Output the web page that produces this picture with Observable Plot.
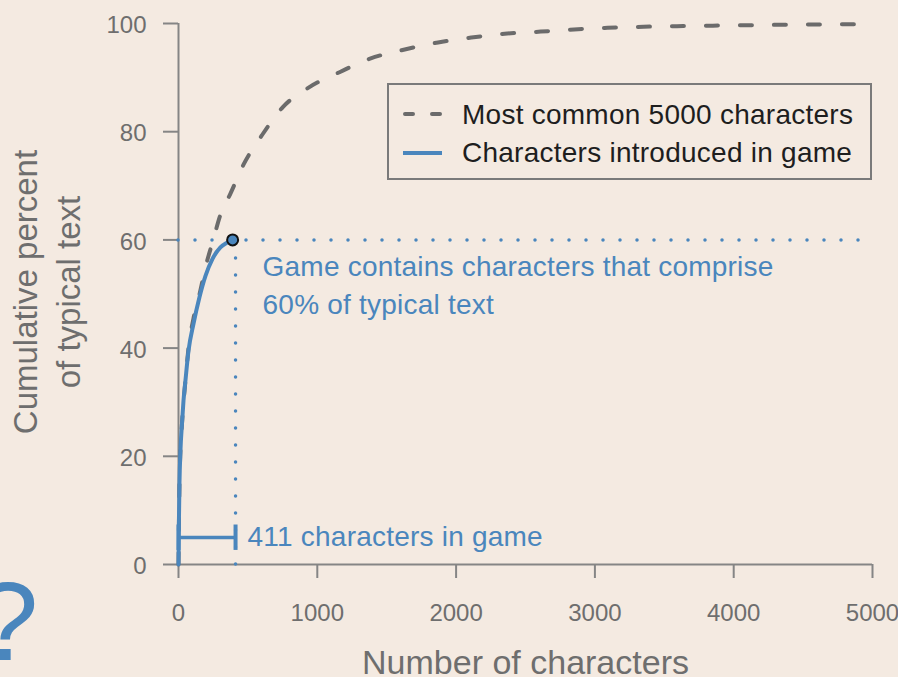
<!DOCTYPE html>
<html><head><meta charset="utf-8">
<script src="https://cdn.jsdelivr.net/npm/d3@7"></script>
<script src="https://cdn.jsdelivr.net/npm/@observablehq/plot@0.6"></script>
<style>
html,body{margin:0;padding:0;background:#f4eae1;}
#wrap{position:relative;width:898px;height:677px;overflow:hidden;background:#f4eae1;font-family:"Liberation Sans",Arial,Helvetica,sans-serif;}
#overlay{position:absolute;left:0;top:0;pointer-events:none;}
</style></head><body><div id="wrap"></div>
<script>
// ---- data ----
const xTicks = [0, 1000, 2000, 3000, 4000, 5000];
const yTicks = [0, 20, 40, 60, 80, 100];
const commonChars   = [0, 7, 14, 25, 50, 72, 108, 150, 195, 250, 300, 375, 470, 600, 750, 940, 1160, 1380, 1630, 1870, 2110, 2350, 2610, 2850, 3090, 3350, 3590, 3850, 4300, 5000];
const commonPercent = [0, 15, 21, 26, 34, 40, 45.5, 49.8, 55, 60, 64.5, 68.6, 74, 79.3, 84.5, 88.2, 91, 93.5, 95.2, 96.5, 97.4, 98.1, 98.5, 98.9, 99.2, 99.4, 99.5, 99.6, 99.75, 99.9];
const gameChars   = [0, 3, 7, 14, 25, 36, 50, 72, 108, 151, 195, 245, 302, 350, 390];
const gamePercent = [0, 8, 15, 21, 26, 30.3, 34, 39.5, 44.5, 49.4, 53.4, 56.5, 58.6, 59.5, 60];
const gameCount = 411;
const gameShare = 60;
const legendLabels = ["Most common 5000 characters", "Characters introduced in game"];
const xLabel = "Number of characters";
const yLabel = "Cumulative percent\nof typical text";
const noteText = "Game contains characters that comprise\n60% of typical text";
const countText = "411 characters in game";
const cornerGlyph = "?";

// ---- styles ----
const BLUE = "#4a86bd";
const GRAY = "#6e6e6e";
const AXIS = "#858585";
const FONT = '"Liberation Sans", Arial, Helvetica, sans-serif';

const common = commonChars.map((x, i) => ({x, y: commonPercent[i]}));
const game = gameChars.map((x, i) => ({x, y: gamePercent[i]}));
const endPoint = game[game.length - 1];
const bracketY = 5;

const chart = Plot.plot({
  width: 898, height: 677,
  marginLeft: 178, marginRight: 26, marginTop: 23, marginBottom: 113,
  x: {domain: [0, 5000], label: null},
  y: {domain: [0, 100], label: null},
  style: {background: "transparent", fontFamily: FONT, overflow: "visible"},
  marks: [
    Plot.ruleX([0], {stroke: AXIS, strokeWidth: 2}),
    Plot.ruleY([0], {stroke: AXIS, strokeWidth: 2}),
    Plot.axisX({ticks: xTicks, tickFormat: d => String(d), tickSize: 14, tickPadding: 25, fontSize: 24, stroke: AXIS, strokeWidth: 2, fill: GRAY, label: null}),
    Plot.axisY({ticks: yTicks, tickFormat: () => "", tickSize: 15, stroke: AXIS, strokeWidth: 2, label: null}),
    Plot.axisY({ticks: yTicks, tickFormat: d => String(d), tickSize: 0, tickPadding: 32, dy: 2, fontSize: 24, fill: GRAY, label: null}),
    Plot.text([xLabel], {frameAnchor: "bottom", dy: 109, textAnchor: "middle", lineAnchor: "bottom", fontSize: 34, fill: GRAY}),
    Plot.text([yLabel], {frameAnchor: "left", rotate: -90, dx: -171.5, dy: -2, textAnchor: "middle", lineAnchor: "top", lineHeight: 1.3, fontSize: 33, fill: GRAY}),
    // dotted guides
    Plot.ruleY([gameShare], {stroke: BLUE, strokeWidth: 3.5, strokeDasharray: "0,17", strokeLinecap: "round"}),
    Plot.ruleX([gameCount], {y1: 0, y2: gameShare, stroke: BLUE, strokeWidth: 3.5, strokeDasharray: "0,17", strokeLinecap: "round"}),
    // curves
    Plot.line(common, {x: "x", y: "y", curve: "monotone-x", stroke: "#6b6b6b", strokeWidth: 4, strokeDasharray: "12,22", strokeLinecap: "round"}),
    Plot.line(game, {x: "x", y: "y", curve: "monotone-x", stroke: BLUE, strokeWidth: 4}),
    Plot.dot([endPoint], {x: "x", y: "y", r: 5.5, fill: BLUE, stroke: "#111", strokeWidth: 2}),
    // bracket
    Plot.ruleY([bracketY], {x1: 0, x2: gameCount, stroke: BLUE, strokeWidth: 3.5}),
    Plot.ruleX([0, gameCount], {y1: bracketY - 2.4, y2: bracketY + 2.3, stroke: BLUE, strokeWidth: 4}),
    Plot.text([countText], {x: gameCount, y: bracketY, dx: 12, textAnchor: "start", lineAnchor: "middle", fontSize: 28, fill: BLUE, style: "letter-spacing:0.2px"}),
    Plot.text([noteText], {x: gameCount, y: gameShare, dx: 27, dy: 9, textAnchor: "start", lineAnchor: "top", lineHeight: 1.357, fontSize: 28, fill: BLUE})
  ]
});
const wrap = document.getElementById("wrap");
wrap.appendChild(chart);
// slight letter spacing for the annotation texts (wider original face)
d3.select(chart).selectAll("text").filter(function () {
  const t = this.textContent;
  return t.startsWith("Game") || t.startsWith("411");
}).style("letter-spacing", "0.22px");

// ---- overlay: legend and corner glyph ----
const ov = d3.select(wrap).append("svg").attr("id", "overlay")
  .attr("width", 898).attr("height", 677).style("font-family", FONT);
const lg = ov.append("g").attr("transform", "translate(387,83)");
lg.append("rect").attr("x", 1).attr("y", 1).attr("width", 483).attr("height", 95)
  .attr("fill", "#f4eae1").attr("stroke", "#7a7a7a").attr("stroke-width", 2);
lg.append("line").attr("x1", 18).attr("x2", 53).attr("y1", 31).attr("y2", 31)
  .attr("stroke", "#6b6b6b").attr("stroke-width", 4).attr("stroke-dasharray", "8,19").attr("stroke-linecap", "round");
lg.append("line").attr("x1", 16).attr("x2", 55).attr("y1", 70).attr("y2", 70)
  .attr("stroke", BLUE).attr("stroke-width", 4);
lg.selectAll("text.lab").data(legendLabels).join("text").attr("class", "lab")
  .attr("x", 75).attr("y", (d, i) => i === 0 ? 41 : 79)
  .attr("font-size", 28).attr("fill", "#1e1e1e").style("letter-spacing", "0.25px").text(d => d);
ov.append("text").attr("x", -24).attr("y", 660).attr("font-size", 112).attr("fill", BLUE).text(cornerGlyph);
</script></body></html>
